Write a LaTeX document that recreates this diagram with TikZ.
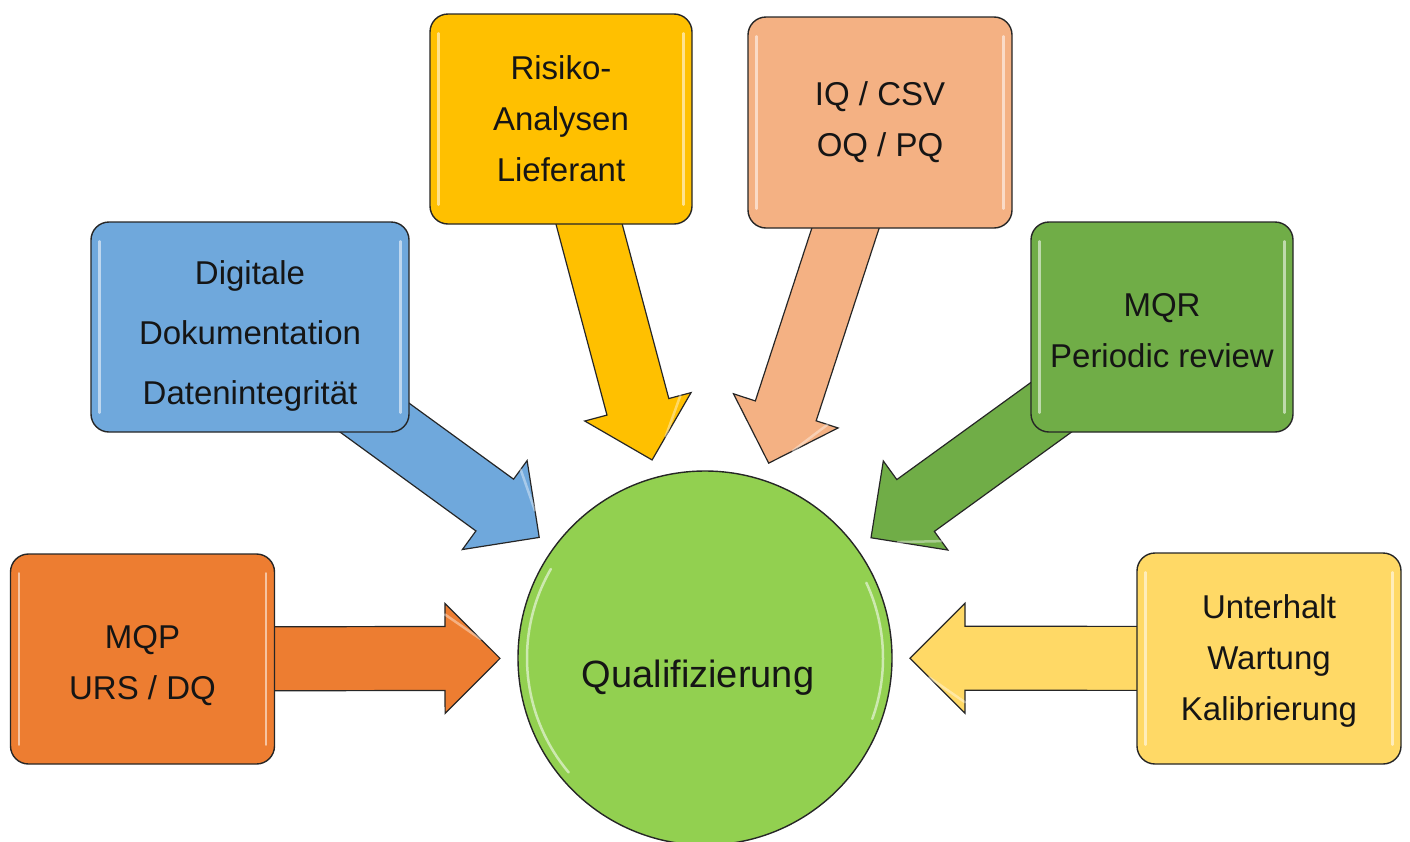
\documentclass[tikz,border=0pt]{standalone}
\usepackage{fontspec}
\setmainfont{Liberation Sans}
\usetikzlibrary{calc,backgrounds}
\definecolor{cOrange}{HTML}{ED7D31}
\definecolor{cBlue}{HTML}{6FA8DC}
\definecolor{cGold}{HTML}{FFC000}
\definecolor{cPeach}{HTML}{F4B183}
\definecolor{cGreen}{HTML}{70AD47}
\definecolor{cLightGold}{HTML}{FFD966}
\definecolor{cCircle}{HTML}{92D050}
\definecolor{cLine}{HTML}{262626}
\definecolor{cText}{HTML}{151515}
\newcommand\blockarrow[3]{%
  \path ($(#2)!55pt!(#1)$) coordinate (ab);
  \draw[arrowshape, fill=#3]
    ($(#1)!32pt!90:(#2)$) -- ($(ab)!32pt!90:(#2)$) -- ($(ab)!55pt!90:(#2)$) -- (#2)
    -- ($(ab)!55pt!-90:(#2)$) -- ($(ab)!32pt!-90:(#2)$) -- ($(#1)!32pt!-90:(#2)$) -- cycle;
  \draw[glossline, opacity=0.4] ($(ab)!44pt!90:(#2)$) -- ($(#2)!0.35!($(ab)!55pt!90:(#2)$)$);
}
\newcommand\glossbox[1]{%
  \draw[glossline] ([xshift=9pt,yshift=-20pt]#1.north west) -- ([xshift=9pt,yshift=20pt]#1.south west);
  \draw[glossline] ([xshift=-9pt,yshift=-20pt]#1.north east) -- ([xshift=-9pt,yshift=20pt]#1.south east);
}
\newcommand\lift[1]{\rule{0pt}{#1}}
\tikzset{
  boxnode/.style={draw=cLine, line width=1.4pt, rounded corners=18pt, align=center,
    text=cText, inner sep=0pt, font={\fontsize{33}{51}\selectfont}},
  arrowshape/.style={draw=cLine, line width=1.2pt, line join=miter},
  glossline/.style={white, opacity=0.55, line width=2.5pt, line cap=round},
}
\begin{document}
\begin{tikzpicture}[x=1pt,y=-1pt]
\useasboundingbox (0,0) rectangle (1410,841);
\clip (0,0) rectangle (1410,841);

\node[boxnode, fill=cOrange, minimum width=264pt, minimum height=210pt] (mqp) at (142.5,659) {\lift{36pt}MQP\\URS / DQ};
\node[boxnode, fill=cBlue, minimum width=318pt, minimum height=210pt, font={\fontsize{33}{60}\selectfont}] (dig) at (250,327) {\lift{41pt}Digitale\\Dokumentation\\Datenintegrität};
\node[boxnode, fill=cGold, minimum width=262pt, minimum height=210pt] (ris) at (561,119) {Risiko-\\Analysen\\Lieferant};
\node[boxnode, fill=cPeach, minimum width=264pt, minimum height=211pt] (iq) at (880,122.5) {IQ / CSV\\OQ / PQ};
\node[boxnode, fill=cGreen, minimum width=262pt, minimum height=210pt] (mqr) at (1162,327) {\lift{31pt}MQR\\Periodic review};
\node[boxnode, fill=cLightGold, minimum width=264pt, minimum height=211pt] (unt) at (1269,658.5) {\lift{28pt}Unterhalt\\Wartung\\Kalibrierung};

\node[circle, draw=cLine, line width=1.4pt, fill=cCircle, minimum size=374pt, inner sep=0pt] (q) at (705,658) {};
\node[text=cText, font={\fontsize{38}{44}\selectfont}, inner sep=0pt] (qlabel) at (698,678) {Qualifizierung};

\foreach \b in {mqp,dig,ris,iq,mqr,unt} {
  \coordinate (\b T) at ($(q.center)!205pt!(\b.center)$);
}

\begin{scope}[on background layer]
  \blockarrow{mqp.center}{mqpT}{cOrange}
  \blockarrow{dig.center}{digT}{cBlue}
  \blockarrow{ris.center}{risT}{cGold}
  \blockarrow{iq.center}{iqT}{cPeach}
  \blockarrow{mqr.center}{mqrT}{cGreen}
  \blockarrow{unt.center}{untT}{cLightGold}
\end{scope}

\glossbox{mqp}
\glossbox{dig}
\glossbox{ris}
\glossbox{iq}
\glossbox{mqr}
\glossbox{unt}
\draw[glossline] ($(q.center)+(140:178)$) arc[start angle=140, end angle=210, radius=178];
\draw[glossline] ($(q.center)+(-25:178)$) arc[start angle=-25, end angle=20, radius=178];
\end{tikzpicture}
\end{document}
